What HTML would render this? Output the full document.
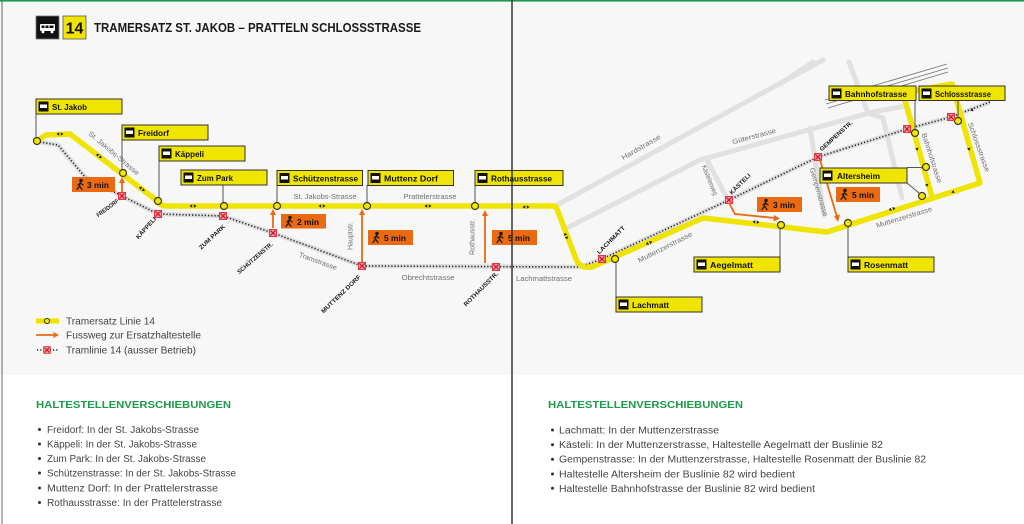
<!DOCTYPE html>
<html><head><meta charset="utf-8"><style>
html,body{margin:0;padding:0;background:#fff;}
svg{display:block;}
text{font-family:"Liberation Sans",sans-serif;}
</style></head><body>
<svg width="1024" height="524" viewBox="0 0 1024 524" xmlns="http://www.w3.org/2000/svg">
<rect x="0" y="0" width="1024" height="524" fill="#fff"/>
<rect x="0" y="0" width="1024" height="375" fill="#f7f7f7"/>
<rect x="0" y="0" width="1024" height="1.6" fill="#1f9a4b"/>
<line x1="2" y1="0" x2="2" y2="524" stroke="#666" stroke-width="1"/>

<!-- header -->
<rect x="36" y="16" width="23" height="23" fill="#111" stroke="#777" stroke-width="0.8"/>
<rect x="40" y="24" width="15" height="7" rx="1" fill="#fff"/>
<rect x="41.5" y="25.5" width="3" height="2.5" fill="#111"/><rect x="45.5" y="25.5" width="3" height="2.5" fill="#111"/><rect x="49.5" y="25.5" width="4" height="2.5" fill="#111"/>
<circle cx="43" cy="32" r="1.4" fill="#fff"/><circle cx="52" cy="32" r="1.4" fill="#fff"/>
<rect x="63" y="16" width="23" height="23" fill="#f0e500" stroke="#555" stroke-width="0.8"/>
<text x="74.5" y="33.5" font-size="16" font-weight="bold" text-anchor="middle" fill="#111">14</text>
<text x="94" y="32" font-size="12.5" font-weight="bold" fill="#1a1a1a" textLength="327" lengthAdjust="spacingAndGlyphs">TRAMERSATZ ST. JAKOB – PRATTELN SCHLOSSSTRASSE</text>

<!-- background streets -->
<g stroke="#e1e1e1" stroke-width="5" fill="none" stroke-linecap="round" stroke-linejoin="round">
<path d="M557,205 L823,60"/>
<path d="M567,228 L700,160 L873,112 L905,106"/>
<path d="M706,158 L728,200"/>
<path d="M810,128 L824,215"/>
<path d="M849,62 L868,113 L883,118 L902,198"/>
<path d="M780,84 L813,62"/>
</g>
<g stroke="#777" stroke-width="0.9" fill="none">
<path d="M825,100 L947,64"/>
<path d="M826,104 L948,68"/>
<path d="M828,108 L948,72"/>
</g>

<!-- tram line out of service -->
<path d="M40,142 L58,145 L85,177 L122,196 L158,214 L223,216 L273,233 L362,266 L580,267 L602,259 L729,200 L818,157 L907,129 L951,117 L990,102" fill="none" stroke="#dcdcdc" stroke-width="4.5" stroke-linejoin="round"/>
<path d="M40,142 L58,145 L85,177 L122,196 L158,214 L223,216 L273,233 L362,266 L580,267 L602,259 L729,200 L818,157 L907,129 L951,117 L990,102" fill="none" stroke="#222" stroke-width="1.6" stroke-dasharray="1.2 2" stroke-linejoin="round"/>

<!-- yellow route -->
<path d="M37,141 L46,135 L70,134 L156,200 Q160,206 167,206 L553,206 Q556,206 557,209 L576,259 Q580,269 592,267 L703,218 L827,232 L980,183 L952,84 L903,93 L932,197" fill="none" stroke="#efe300" stroke-width="5.5" stroke-linejoin="round" stroke-linecap="round"/>

<!-- direction arrows -->
<g fill="#222">
<g transform="translate(60,134)"><path d="M-3.5,0 L-0.8,-1.8 L-0.8,1.8Z M3.5,0 L0.8,-1.8 L0.8,1.8Z"/></g>
<g transform="translate(99,156) rotate(38)"><path d="M-3.5,0 L-0.8,-1.8 L-0.8,1.8Z M3.5,0 L0.8,-1.8 L0.8,1.8Z"/></g>
<g transform="translate(142,189) rotate(38)"><path d="M-3.5,0 L-0.8,-1.8 L-0.8,1.8Z M3.5,0 L0.8,-1.8 L0.8,1.8Z"/></g>
<g transform="translate(193,206)"><path d="M-3.5,0 L-0.8,-1.8 L-0.8,1.8Z M3.5,0 L0.8,-1.8 L0.8,1.8Z"/></g>
<g transform="translate(322,206)"><path d="M-3.5,0 L-0.8,-1.8 L-0.8,1.8Z M3.5,0 L0.8,-1.8 L0.8,1.8Z"/></g>
<g transform="translate(428,206)"><path d="M-3.5,0 L-0.8,-1.8 L-0.8,1.8Z M3.5,0 L0.8,-1.8 L0.8,1.8Z"/></g>
<g transform="translate(526,207)"><path d="M-3.5,0 L-0.8,-1.8 L-0.8,1.8Z M3.5,0 L0.8,-1.8 L0.8,1.8Z"/></g>
<g transform="translate(566,236) rotate(68)"><path d="M-3.5,0 L-0.8,-1.8 L-0.8,1.8Z M3.5,0 L0.8,-1.8 L0.8,1.8Z"/></g>
<g transform="translate(649,243) rotate(-24)"><path d="M-3.5,0 L-0.8,-1.8 L-0.8,1.8Z M3.5,0 L0.8,-1.8 L0.8,1.8Z"/></g>
<g transform="translate(756,222) rotate(6)"><path d="M-3.5,0 L-0.8,-1.8 L-0.8,1.8Z M3.5,0 L0.8,-1.8 L0.8,1.8Z"/></g>
<g transform="translate(892,209) rotate(-17)"><path d="M-3.5,0 L-0.8,-1.8 L-0.8,1.8Z M3.5,0 L0.8,-1.8 L0.8,1.8Z"/></g>
<g transform="translate(953,192) rotate(-17)"><path d="M-1.8,0 L1,-1.8 L1,1.8Z"/></g>
<g transform="translate(927,185) rotate(73)"><path d="M1.8,0 L-1,-1.8 L-1,1.8Z"/></g>
<g transform="translate(917,149) rotate(73)"><path d="M1.8,0 L-1,-1.8 L-1,1.8Z"/></g>
<g transform="translate(969,149) rotate(74)"><path d="M1.8,0 L-1,-1.8 L-1,1.8Z"/></g>
<g transform="translate(972,110) rotate(-20)"><path d="M-1.8,0 L1,-1.8 L1,1.8Z"/></g>
</g>

<!-- leader lines -->
<g stroke="#555" stroke-width="1" fill="none">
<path d="M36,114 V137"/><path d="M122,140 V169"/><path d="M159,161 V197"/><path d="M223,185 V202"/>
<path d="M277,185 V202"/><path d="M367,185 V202"/><path d="M475,185 V202"/>
<path d="M616,263 V297"/><path d="M780,229 V257"/><path d="M848,227 V257"/>
<path d="M907,167.5 H922"/><path d="M907,183 L919,193"/>
<path d="M915,100 V129"/><path d="M958,100 V117"/>
</g>

<!-- stop circles -->
<g fill="#f3e600" stroke="#3a3a1a" stroke-width="1.2">
<circle cx="37" cy="141" r="3.5"/><circle cx="123" cy="173" r="3.5"/><circle cx="158" cy="201" r="3.5"/>
<circle cx="224" cy="206" r="3.5"/><circle cx="277" cy="206" r="3.5"/><circle cx="367" cy="206" r="3.5"/>
<circle cx="475" cy="206" r="3.5"/><circle cx="615" cy="259" r="3.5"/><circle cx="781" cy="225" r="3.5"/>
<circle cx="848" cy="223" r="3.5"/><circle cx="915" cy="133" r="3.5"/><circle cx="926" cy="167" r="3.5"/>
<circle cx="922" cy="196" r="3.5"/><circle cx="958" cy="121" r="3.5"/>
</g>

<!-- X markers -->
<g>
<g transform="translate(122,196)"><rect x="-3.6" y="-3.6" width="7.2" height="7.2" fill="#f2a3ab" stroke="#e0202c" stroke-width="0.8"/><path d="M-2.6,-2.6 L2.6,2.6 M2.6,-2.6 L-2.6,2.6" stroke="#d4162b" stroke-width="1.3"/></g>
<g transform="translate(158,214)"><rect x="-3.6" y="-3.6" width="7.2" height="7.2" fill="#f2a3ab" stroke="#e0202c" stroke-width="0.8"/><path d="M-2.6,-2.6 L2.6,2.6 M2.6,-2.6 L-2.6,2.6" stroke="#d4162b" stroke-width="1.3"/></g>
<g transform="translate(223,216)"><rect x="-3.6" y="-3.6" width="7.2" height="7.2" fill="#f2a3ab" stroke="#e0202c" stroke-width="0.8"/><path d="M-2.6,-2.6 L2.6,2.6 M2.6,-2.6 L-2.6,2.6" stroke="#d4162b" stroke-width="1.3"/></g>
<g transform="translate(273,233)"><rect x="-3.6" y="-3.6" width="7.2" height="7.2" fill="#f2a3ab" stroke="#e0202c" stroke-width="0.8"/><path d="M-2.6,-2.6 L2.6,2.6 M2.6,-2.6 L-2.6,2.6" stroke="#d4162b" stroke-width="1.3"/></g>
<g transform="translate(362,266)"><rect x="-3.6" y="-3.6" width="7.2" height="7.2" fill="#f2a3ab" stroke="#e0202c" stroke-width="0.8"/><path d="M-2.6,-2.6 L2.6,2.6 M2.6,-2.6 L-2.6,2.6" stroke="#d4162b" stroke-width="1.3"/></g>
<g transform="translate(496,267)"><rect x="-3.6" y="-3.6" width="7.2" height="7.2" fill="#f2a3ab" stroke="#e0202c" stroke-width="0.8"/><path d="M-2.6,-2.6 L2.6,2.6 M2.6,-2.6 L-2.6,2.6" stroke="#d4162b" stroke-width="1.3"/></g>
<g transform="translate(602,259)"><rect x="-3.6" y="-3.6" width="7.2" height="7.2" fill="#f2a3ab" stroke="#e0202c" stroke-width="0.8"/><path d="M-2.6,-2.6 L2.6,2.6 M2.6,-2.6 L-2.6,2.6" stroke="#d4162b" stroke-width="1.3"/></g>
<g transform="translate(729,200)"><rect x="-3.6" y="-3.6" width="7.2" height="7.2" fill="#f2a3ab" stroke="#e0202c" stroke-width="0.8"/><path d="M-2.6,-2.6 L2.6,2.6 M2.6,-2.6 L-2.6,2.6" stroke="#d4162b" stroke-width="1.3"/></g>
<g transform="translate(818,157)"><rect x="-3.6" y="-3.6" width="7.2" height="7.2" fill="#f2a3ab" stroke="#e0202c" stroke-width="0.8"/><path d="M-2.6,-2.6 L2.6,2.6 M2.6,-2.6 L-2.6,2.6" stroke="#d4162b" stroke-width="1.3"/></g>
<g transform="translate(907,129)"><rect x="-3.6" y="-3.6" width="7.2" height="7.2" fill="#f2a3ab" stroke="#e0202c" stroke-width="0.8"/><path d="M-2.6,-2.6 L2.6,2.6 M2.6,-2.6 L-2.6,2.6" stroke="#d4162b" stroke-width="1.3"/></g>
<g transform="translate(951,117)"><rect x="-3.6" y="-3.6" width="7.2" height="7.2" fill="#f2a3ab" stroke="#e0202c" stroke-width="0.8"/><path d="M-2.6,-2.6 L2.6,2.6 M2.6,-2.6 L-2.6,2.6" stroke="#d4162b" stroke-width="1.3"/></g>
</g>

<!-- walk arrows -->
<g stroke="#ea6a12" stroke-width="1.8" fill="none">
<path d="M122,192 V181"/><path d="M273,228 V213"/><path d="M362,262 V213"/><path d="M485,263 V214"/>
<path d="M729,203 L735,214 L775,218"/><path d="M820,160 L837,217"/>
</g>
<g fill="#ea6a12">
<path d="M122,177 L119,183 L125,183Z"/><path d="M273,209 L270,215 L276,215Z"/><path d="M362,209 L359,215 L365,215Z"/><path d="M485,210 L482,216 L488,216Z"/>
<path d="M780,218.5 L774,215 L773.5,221.5Z"/><path d="M838,222 L834,216 L840,214.5Z"/>
</g>

<!-- walk boxes -->
<g font-size="8.5" font-weight="bold" fill="#111">
<g transform="translate(72,177)"><rect width="43" height="15" fill="#ea6a12"/><g stroke="#1a1a1a" stroke-width="1.2" fill="none" stroke-linecap="round"><circle cx="9" cy="3.5" r="1.2" fill="#1a1a1a"/><path d="M8.5,5 L7.5,9 L5,12.5 M7.5,9 L10,12.5 M8.5,6 L11,8 M8.3,6 L6,8"/></g><text x="15" y="11" textLength="22" lengthAdjust="spacingAndGlyphs">3 min</text></g>
<g transform="translate(281,214)"><rect width="45" height="14.5" fill="#ea6a12"/><g stroke="#1a1a1a" stroke-width="1.2" fill="none" stroke-linecap="round"><circle cx="9" cy="3.5" r="1.2" fill="#1a1a1a"/><path d="M8.5,5 L7.5,9 L5,12.5 M7.5,9 L10,12.5 M8.5,6 L11,8 M8.3,6 L6,8"/></g><text x="16" y="11" textLength="22" lengthAdjust="spacingAndGlyphs">2 min</text></g>
<g transform="translate(368,230)"><rect width="45" height="15" fill="#ea6a12"/><g stroke="#1a1a1a" stroke-width="1.2" fill="none" stroke-linecap="round"><circle cx="9" cy="3.5" r="1.2" fill="#1a1a1a"/><path d="M8.5,5 L7.5,9 L5,12.5 M7.5,9 L10,12.5 M8.5,6 L11,8 M8.3,6 L6,8"/></g><text x="16" y="11" textLength="22" lengthAdjust="spacingAndGlyphs">5 min</text></g>
<g transform="translate(492,230)"><rect width="45" height="15" fill="#ea6a12"/><g stroke="#1a1a1a" stroke-width="1.2" fill="none" stroke-linecap="round"><circle cx="9" cy="3.5" r="1.2" fill="#1a1a1a"/><path d="M8.5,5 L7.5,9 L5,12.5 M7.5,9 L10,12.5 M8.5,6 L11,8 M8.3,6 L6,8"/></g><text x="16" y="11" textLength="22" lengthAdjust="spacingAndGlyphs">5 min</text></g>
<g transform="translate(757,197)"><rect width="45" height="15" fill="#ea6a12"/><g stroke="#1a1a1a" stroke-width="1.2" fill="none" stroke-linecap="round"><circle cx="9" cy="3.5" r="1.2" fill="#1a1a1a"/><path d="M8.5,5 L7.5,9 L5,12.5 M7.5,9 L10,12.5 M8.5,6 L11,8 M8.3,6 L6,8"/></g><text x="16" y="11" textLength="22" lengthAdjust="spacingAndGlyphs">3 min</text></g>
<g transform="translate(836,187)"><rect width="44" height="15" fill="#ea6a12"/><g stroke="#1a1a1a" stroke-width="1.2" fill="none" stroke-linecap="round"><circle cx="9" cy="3.5" r="1.2" fill="#1a1a1a"/><path d="M8.5,5 L7.5,9 L5,12.5 M7.5,9 L10,12.5 M8.5,6 L11,8 M8.3,6 L6,8"/></g><text x="16" y="11" textLength="22" lengthAdjust="spacingAndGlyphs">5 min</text></g>
</g>

<!-- street labels -->
<g font-size="7" fill="#707070" text-anchor="middle">
<text transform="translate(114,153) rotate(40)" y="2.5" textLength="64" lengthAdjust="spacingAndGlyphs">St. Jakobs-Strasse</text>
<text x="325" y="199" textLength="63" lengthAdjust="spacingAndGlyphs">St. Jakobs-Strasse</text>
<text x="430" y="199" textLength="53" lengthAdjust="spacingAndGlyphs">Prattelerstrasse</text>
<text transform="translate(350,236) rotate(-90)" y="2.5" textLength="28" lengthAdjust="spacingAndGlyphs">Hauptstr.</text>
<text transform="translate(472,237) rotate(-90)" y="2.5" textLength="36" lengthAdjust="spacingAndGlyphs">Rothausstr.</text>
<text transform="translate(318,261) rotate(20)" y="2.5" textLength="40" lengthAdjust="spacingAndGlyphs">Tramstrasse</text>
<text x="428" y="280" textLength="53" lengthAdjust="spacingAndGlyphs">Obrechtstrasse</text>
<text x="544" y="281" textLength="56" lengthAdjust="spacingAndGlyphs">Lachmattstrasse</text>
<text transform="translate(665,247) rotate(-27)" y="2.5" textLength="60" lengthAdjust="spacingAndGlyphs">Muttenzerstrasse</text>
<text transform="translate(641,147) rotate(-30)" y="2.5" textLength="44" lengthAdjust="spacingAndGlyphs">Hardstrasse</text>
<text transform="translate(754,136) rotate(-15)" y="2.5" textLength="45" lengthAdjust="spacingAndGlyphs">Güterstrasse</text>
<text transform="translate(710,180) rotate(68)" y="2.5" textLength="32" lengthAdjust="spacingAndGlyphs">Kästelerweg</text>
<text transform="translate(819,192) rotate(74)" y="2.5" textLength="50" lengthAdjust="spacingAndGlyphs">Gempenstrasse</text>
<text transform="translate(932,158) rotate(72)" y="2.5" textLength="52" lengthAdjust="spacingAndGlyphs">Bahnhofstrasse</text>
<text transform="translate(979,147) rotate(70)" y="2.5" textLength="52" lengthAdjust="spacingAndGlyphs">Schlossstrasse</text>
<text transform="translate(904,217) rotate(-17)" y="2.5" textLength="58" lengthAdjust="spacingAndGlyphs">Muttenzerstrasse</text>
</g>

<!-- tram stop labels -->
<g font-size="6" font-weight="bold" fill="#1a1a1a" text-anchor="middle">
<text transform="translate(107.5,208) rotate(-37)" y="2" textLength="26" lengthAdjust="spacingAndGlyphs">FREIDORF</text>
<text transform="translate(146,228) rotate(-48)" y="2" textLength="27" lengthAdjust="spacingAndGlyphs">KÄPPELI</text>
<text transform="translate(212,237) rotate(-43)" y="2" textLength="33" lengthAdjust="spacingAndGlyphs">ZUM PARK</text>
<text transform="translate(255,258) rotate(-41)" y="2" textLength="45" lengthAdjust="spacingAndGlyphs">SCHÜTZENSTR.</text>
<text transform="translate(341,294) rotate(-44)" y="2" textLength="52" lengthAdjust="spacingAndGlyphs">MUTTENZ DORF</text>
<text transform="translate(481,289) rotate(-45)" y="2" textLength="46" lengthAdjust="spacingAndGlyphs">ROTHAUSSTR.</text>
<text transform="translate(611,240) rotate(-45)" y="2" textLength="37" lengthAdjust="spacingAndGlyphs">LACHMATT</text>
<text transform="translate(740,184) rotate(-45)" y="2" textLength="27" lengthAdjust="spacingAndGlyphs">KÄSTELI</text>
<text transform="translate(836,136) rotate(-42)" y="2" textLength="42" lengthAdjust="spacingAndGlyphs">GEMPENSTR.</text>
</g>

<!-- bus stop boxes -->
<g font-size="8.5" font-weight="bold" fill="#111">
<g transform="translate(36,99)"><rect width="86" height="15" fill="#f0e500" stroke="#333" stroke-width="1"/><rect x="2.5" y="2.5" width="10" height="10" fill="#111"/><rect x="4" y="5.5" width="7" height="3.5" fill="#fff"/><text x="16" y="11" textLength="35" lengthAdjust="spacingAndGlyphs">St. Jakob</text></g>
<g transform="translate(122,125)"><rect width="86" height="15" fill="#f0e500" stroke="#333" stroke-width="1"/><rect x="2.5" y="2.5" width="10" height="10" fill="#111"/><rect x="4" y="5.5" width="7" height="3.5" fill="#fff"/><text x="16" y="11" textLength="31" lengthAdjust="spacingAndGlyphs">Freidorf</text></g>
<g transform="translate(159,146)"><rect width="86" height="15" fill="#f0e500" stroke="#333" stroke-width="1"/><rect x="2.5" y="2.5" width="10" height="10" fill="#111"/><rect x="4" y="5.5" width="7" height="3.5" fill="#fff"/><text x="16" y="11" textLength="29" lengthAdjust="spacingAndGlyphs">Käppeli</text></g>
<g transform="translate(181,170)"><rect width="86" height="15" fill="#f0e500" stroke="#333" stroke-width="1"/><rect x="2.5" y="2.5" width="10" height="10" fill="#111"/><rect x="4" y="5.5" width="7" height="3.5" fill="#fff"/><text x="16" y="11" textLength="36" lengthAdjust="spacingAndGlyphs">Zum Park</text></g>
<g transform="translate(277,170.5)"><rect width="85.5" height="15" fill="#f0e500" stroke="#333" stroke-width="1"/><rect x="2.5" y="2.5" width="10" height="10" fill="#111"/><rect x="4" y="5.5" width="7" height="3.5" fill="#fff"/><text x="16" y="11" textLength="65" lengthAdjust="spacingAndGlyphs">Schützenstrasse</text></g>
<g transform="translate(368,170.5)"><rect width="85.5" height="15" fill="#f0e500" stroke="#333" stroke-width="1"/><rect x="2.5" y="2.5" width="10" height="10" fill="#111"/><rect x="4" y="5.5" width="7" height="3.5" fill="#fff"/><text x="16" y="11" textLength="54" lengthAdjust="spacingAndGlyphs">Muttenz Dorf</text></g>
<g transform="translate(475,170.5)"><rect width="88" height="15" fill="#f0e500" stroke="#333" stroke-width="1"/><rect x="2.5" y="2.5" width="10" height="10" fill="#111"/><rect x="4" y="5.5" width="7" height="3.5" fill="#fff"/><text x="16" y="11" textLength="61" lengthAdjust="spacingAndGlyphs">Rothausstrasse</text></g>
<g transform="translate(616,297)"><rect width="86" height="15" fill="#f0e500" stroke="#333" stroke-width="1"/><rect x="2.5" y="2.5" width="10" height="10" fill="#111"/><rect x="4" y="5.5" width="7" height="3.5" fill="#fff"/><text x="16" y="11" textLength="37" lengthAdjust="spacingAndGlyphs">Lachmatt</text></g>
<g transform="translate(694,257)"><rect width="86" height="15" fill="#f0e500" stroke="#333" stroke-width="1"/><rect x="2.5" y="2.5" width="10" height="10" fill="#111"/><rect x="4" y="5.5" width="7" height="3.5" fill="#fff"/><text x="16" y="11" textLength="43" lengthAdjust="spacingAndGlyphs">Aegelmatt</text></g>
<g transform="translate(848,257)"><rect width="86" height="15" fill="#f0e500" stroke="#333" stroke-width="1"/><rect x="2.5" y="2.5" width="10" height="10" fill="#111"/><rect x="4" y="5.5" width="7" height="3.5" fill="#fff"/><text x="16" y="11" textLength="44" lengthAdjust="spacingAndGlyphs">Rosenmatt</text></g>
<g transform="translate(820,168)"><rect width="87" height="15" fill="#f0e500" stroke="#333" stroke-width="1"/><rect x="2.5" y="2.5" width="10" height="10" fill="#111"/><rect x="4" y="5.5" width="7" height="3.5" fill="#fff"/><text x="17" y="11" textLength="43" lengthAdjust="spacingAndGlyphs">Altersheim</text></g>
<g transform="translate(829,86)"><rect width="87" height="14.5" fill="#f0e500" stroke="#333" stroke-width="1"/><rect x="2.5" y="2.5" width="10" height="10" fill="#111"/><rect x="4" y="5.5" width="7" height="3.5" fill="#fff"/><text x="16" y="11" textLength="62" lengthAdjust="spacingAndGlyphs">Bahnhofstrasse</text></g>
<g transform="translate(919,86)"><rect width="86" height="14.5" fill="#f0e500" stroke="#333" stroke-width="1"/><rect x="2.5" y="2.5" width="10" height="10" fill="#111"/><rect x="4" y="5.5" width="7" height="3.5" fill="#fff"/><text x="16" y="11" textLength="56" lengthAdjust="spacingAndGlyphs">Schlossstrasse</text></g>
</g>

<!-- legend -->
<rect x="36" y="318.5" width="23" height="5" fill="#efe300"/>
<circle cx="47" cy="321" r="2.6" fill="#f3e600" stroke="#3a3a1a" stroke-width="1"/>
<path d="M36,335 H55" stroke="#ea6a12" stroke-width="1.8"/>
<path d="M59,335 L53.5,332 L53.5,338Z" fill="#ea6a12"/>
<path d="M37,350 H59" stroke="#222" stroke-width="1.6" stroke-dasharray="1.2 2"/>
<g transform="translate(47,350)"><rect x="-3.3" y="-3.3" width="6.6" height="6.6" fill="#f2a3ab" stroke="#e0202c" stroke-width="0.8"/><path d="M-2.4,-2.4 L2.4,2.4 M2.4,-2.4 L-2.4,2.4" stroke="#d4162b" stroke-width="1.2"/></g>
<g font-size="10" fill="#444">
<text x="66" y="324.5" textLength="89" lengthAdjust="spacingAndGlyphs">Tramersatz Linie 14</text>
<text x="66" y="338.5" textLength="135" lengthAdjust="spacingAndGlyphs">Fussweg zur Ersatzhaltestelle</text>
<text x="66" y="353.5" textLength="130" lengthAdjust="spacingAndGlyphs">Tramlinie 14 (ausser Betrieb)</text>
</g>

<!-- bottom text left -->
<text x="36" y="408" font-size="10.5" font-weight="bold" fill="#1f9a4b" textLength="195" lengthAdjust="spacingAndGlyphs">HALTESTELLENVERSCHIEBUNGEN</text>
<g fill="#333"><circle cx="39.5" cy="429.5" r="1.5"/><circle cx="39.5" cy="444" r="1.5"/><circle cx="39.5" cy="458.5" r="1.5"/><circle cx="39.5" cy="473" r="1.5"/><circle cx="39.5" cy="488" r="1.5"/><circle cx="39.5" cy="502.5" r="1.5"/></g>
<g font-size="10" fill="#444">
<text x="47" y="433" textLength="152" lengthAdjust="spacingAndGlyphs">Freidorf: In der St. Jakobs-Strasse</text>
<text x="47" y="447.5" textLength="150" lengthAdjust="spacingAndGlyphs">Käppeli: In der St. Jakobs-Strasse</text>
<text x="47" y="462" textLength="159" lengthAdjust="spacingAndGlyphs">Zum Park: In der St. Jakobs-Strasse</text>
<text x="47" y="476.5" textLength="189" lengthAdjust="spacingAndGlyphs">Schützenstrasse: In der St. Jakobs-Strasse</text>
<text x="47" y="491.5" textLength="171" lengthAdjust="spacingAndGlyphs">Muttenz Dorf: In der Prattelerstrasse</text>
<text x="47" y="506" textLength="175" lengthAdjust="spacingAndGlyphs">Rothausstrasse: In der Prattelerstrasse</text>
</g>

<!-- bottom text right -->
<text x="548" y="408" font-size="10.5" font-weight="bold" fill="#1f9a4b" textLength="195" lengthAdjust="spacingAndGlyphs">HALTESTELLENVERSCHIEBUNGEN</text>
<g fill="#333"><circle cx="552.5" cy="430" r="1.5"/><circle cx="552.5" cy="444.7" r="1.5"/><circle cx="552.5" cy="459.3" r="1.5"/><circle cx="552.5" cy="474" r="1.5"/><circle cx="552.5" cy="488.3" r="1.5"/></g>
<g font-size="10" fill="#444">
<text x="559" y="433.5" textLength="160" lengthAdjust="spacingAndGlyphs">Lachmatt: In der Muttenzerstrasse</text>
<text x="559" y="448" textLength="324" lengthAdjust="spacingAndGlyphs">Kästeli: In der Muttenzerstrasse, Haltestelle Aegelmatt der Buslinie 82</text>
<text x="559" y="462.5" textLength="367" lengthAdjust="spacingAndGlyphs">Gempenstrasse: In der Muttenzerstrasse, Haltestelle Rosenmatt der Buslinie 82</text>
<text x="559" y="477.5" textLength="236" lengthAdjust="spacingAndGlyphs">Haltestelle Altersheim der Buslinie 82 wird bedient</text>
<text x="559" y="492" textLength="256" lengthAdjust="spacingAndGlyphs">Haltestelle Bahnhofstrasse der Buslinie 82 wird bedient</text>
</g>

<!-- center divider -->
<line x1="512" y1="0" x2="512" y2="524" stroke="#2a2a2a" stroke-width="1.4"/>
</svg>
</body></html>
